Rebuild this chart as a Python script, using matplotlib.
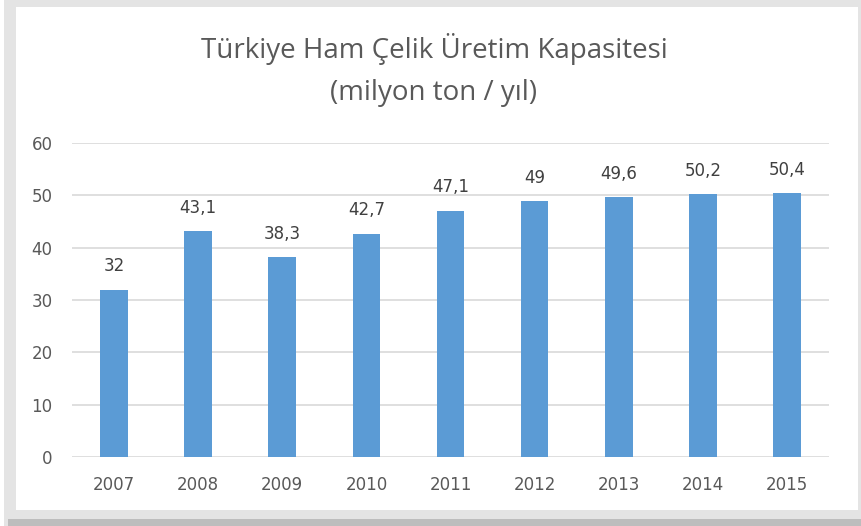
import matplotlib.pyplot as plt
from matplotlib.patches import Rectangle

# Data
years = ["2007", "2008", "2009", "2010", "2011", "2012", "2013", "2014", "2015"]
capacity = [32, 43.1, 38.3, 42.7, 47.1, 49, 49.6, 50.2, 50.4]
labels = ["32", "43,1", "38,3", "42,7", "47,1", "49", "49,6", "50,2", "50,4"]
yticks = [0, 10, 20, 30, 40, 50, 60]

W, H = 861, 526
BAR_COLOR = "#5B9BD5"
TEXT_COLOR = "#595959"
plt.rcParams["font.family"] = ["DejaVu Sans"]

fig = plt.figure(figsize=(W / 100, H / 100), dpi=100)
fig.patch.set_facecolor("white")


def px_rect(x0, y0, x1, y1, color):
    # pixel coords, top-down
    fig.patches.append(Rectangle((x0 / W, 1 - y1 / H), (x1 - x0) / W, (y1 - y0) / H,
                                 transform=fig.transFigure, facecolor=color,
                                 edgecolor="none", zorder=-5))


# frame + shadow
px_rect(4, 0, W, H, "#e4e4e4")
px_rect(8, 519, W, H, "#bdbdbd")
px_rect(16, 7, 858, 510, "white")

ax = fig.add_axes([72 / W, 1 - 457 / H, (829 - 72) / W, (457 - 143) / H])
ax.set_zorder(2)
ax.set_facecolor("none")
x = range(len(years))
ax.bar(x, capacity, width=0.33, color=BAR_COLOR, zorder=3)
for xi, v, lab in zip(x, capacity, labels):
    ax.annotate(lab, (xi, v), xytext=(0, 13), textcoords="offset points",
                ha="center", va="baseline", fontsize=12, color="#404040")

ax.set_xlim(-0.5, len(years) - 0.5)
ax.set_ylim(0, 60)
ax.set_yticks(yticks)
ax.set_xticks(list(x))
ax.set_xticklabels(years)
ax.grid(axis="y", color="#d9d9d9", linewidth=1.2, zorder=0)
for s in ax.spines.values():
    s.set_visible(False)
ax.tick_params(length=0, labelsize=12, labelcolor=TEXT_COLOR)
ax.tick_params(axis="x", pad=14)
ax.tick_params(axis="y", pad=14)

fig.text(434 / W, 1 - 49 / H, "Türkiye Ham Çelik Üretim Kapasitesi",
         ha="center", va="center", fontsize=20, color=TEXT_COLOR,
         family=["Open Sans", "DejaVu Sans"])
fig.text(434 / W, 1 - 93 / H, "(milyon ton / yıl)",
         ha="center", va="center", fontsize=20, color=TEXT_COLOR,
         family=["Open Sans", "DejaVu Sans"])

fig.savefig("out.png", dpi=100)
